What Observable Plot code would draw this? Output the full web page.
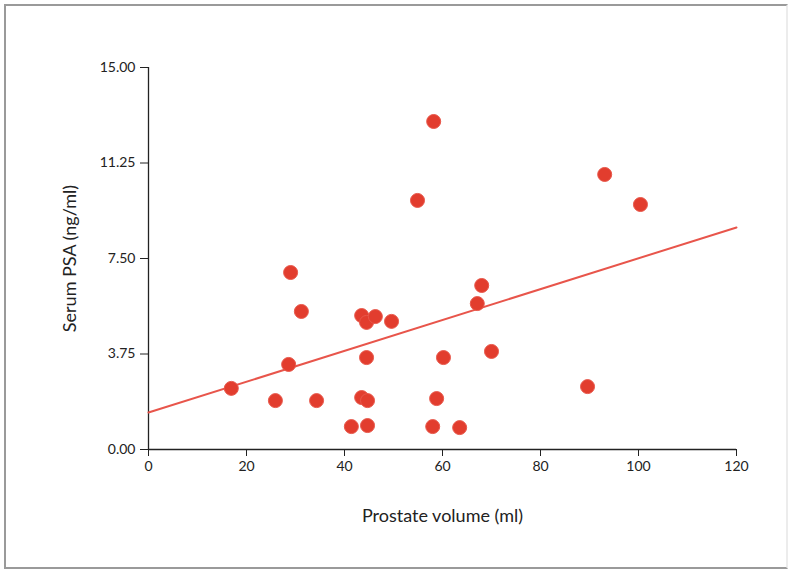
<!DOCTYPE html>
<html>
<head>
<meta charset="utf-8">
<script src="https://cdn.jsdelivr.net/npm/d3@7"></script>
<script src="https://cdn.jsdelivr.net/npm/@observablehq/plot@0.6"></script>
<style>
  html, body { margin: 0; padding: 0; background: #fff; }
  #wrap { position: relative; width: 794px; height: 571px; overflow: hidden; }
  #frame { position: absolute; left: 4px; top: 4px; width: 784px; height: 565px; border: 2px solid #9a9a9a; border-right-color: #ececec; box-sizing: border-box; pointer-events: none; }
  svg { display: block; }
</style>
</head>
<body>
<div id="wrap"><div id="frame"></div></div>
<script>
// Prostate volume (ml)
const volume = [16.9, 25.9, 29.0, 28.6, 31.2, 34.3, 41.4, 43.5, 43.5, 44.5, 44.5, 44.7, 44.7, 46.3, 49.6, 54.9, 58.2, 58.0, 58.8, 60.2, 63.5, 67.1, 68.0, 70.0, 89.6, 93.1, 100.4];
// Serum PSA (ng/ml)
const psa = [2.40, 1.92, 6.95, 3.34, 5.42, 1.92, 0.90, 5.26, 2.04, 4.99, 3.61, 1.92, 0.94, 5.22, 5.03, 9.78, 12.88, 0.90, 2.00, 3.61, 0.86, 5.73, 6.44, 3.85, 2.47, 10.80, 9.62];
// Fitted trend line (end points)
const fitX = [0, 120];
const fitY = [1.45, 8.72];
const xTicks = [0, 20, 40, 60, 80, 100, 120];
const yTicks = [0, 3.75, 7.5, 11.25, 15];
const xLabel = "Prostate volume (ml)";
const yLabel = "Serum PSA (ng/ml)";

const points = volume.map((v, i) => ({x: v, y: psa[i]}));
const fit = fitX.map((v, i) => ({x: v, y: fitY[i]}));

const font = "Lato, 'Open Sans', sans-serif";
const chart = Plot.plot({
  width: 794,
  height: 571,
  marginLeft: 148,
  marginRight: 58,
  marginTop: 67,
  marginBottom: 122,
  style: {fontFamily: font, fontSize: "14px", color: "#222", background: "transparent"},
  x: {domain: [0, 120]},
  y: {domain: [0, 15]},
  marks: [
    Plot.ruleY([0], {stroke: "#222", strokeWidth: 1.3}),
    Plot.ruleX([0], {stroke: "#222", strokeWidth: 1.3}),
    Plot.axisX({ticks: xTicks, tickSize: 7, tickPadding: 5, stroke: "#222", fontSize: 14, label: null}),
    Plot.axisY({ticks: yTicks, tickSize: 8, tickPadding: 5, tickFormat: d3.format(".2f"), stroke: "#222", fontSize: 14, label: null}),
    Plot.line(fit, {x: "x", y: "y", stroke: "#e8554b", strokeWidth: 2}),
    Plot.dot(points, {x: "x", y: "y", r: 7, fill: "#e23d2e", stroke: "#e8574a", strokeWidth: 1}),
    Plot.text([xLabel], {frameAnchor: "bottom", dy: 67, lineAnchor: "middle", textAnchor: "middle", text: d => d, fontSize: 18, fill: "#222"}),
    Plot.text([yLabel], {frameAnchor: "left", dx: -78, rotate: -90, lineAnchor: "middle", textAnchor: "middle", text: d => d, fontSize: 18, fill: "#222"})
  ]
});
document.getElementById("wrap").prepend(chart);
</script>
</body>
</html>
